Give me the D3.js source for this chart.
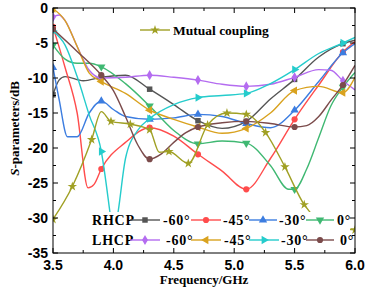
<!DOCTYPE html>
<html>
<head>
<meta charset="utf-8">
<script src="https://cdn.jsdelivr.net/npm/d3@7"></script>
<style>
  body { margin: 0; background: #fff; }
  svg { display: block; }
  .tick-label { font-family: "Liberation Sans", Arial, sans-serif; font-weight: bold; font-size: 14px; fill: #000; }
  .serif { font-family: "Liberation Serif", "Times New Roman", serif; font-weight: bold; font-size: 13px; fill: #000; }
  .entry { font-size: 14px; letter-spacing: 0.8px; }
</style>
</head>
<body>
<div id="chart-container"></div>
<script>
// axis ticks
const freqTicks = [3.5, 4.0, 4.5, 5.0, 5.5, 6.0];
const freqMinorTicks = [3.75, 4.25, 4.75, 5.25, 5.75];
const dbTicks = [0, -5, -10, -15, -20, -25, -30, -35];
const dbMinorTicks = [-2.5, -7.5, -12.5, -17.5, -22.5, -27.5, -32.5];

// frequencies where the symbols sit
const markFreqs = [3.5, 3.9, 4.3, 4.7, 5.1, 5.5, 5.9];
const mutualMarkFreqs = [3.5, 3.66, 3.82, 3.98, 4.14, 4.3, 4.46, 4.62, 4.78, 4.94, 5.1, 5.26, 5.42, 5.58, 5.74, 5.9, 6.0];

// [GHz, dB]
const rhcp60 = [[3.5,-12.4],[3.55,-10.3],[3.6,-9.8],[3.75,-10.4],[3.9,-9.9],[4.1,-9.6],[4.3,-11.6],[4.5,-13.8],[4.7,-16.1],[4.9,-17.2],[5.1,-16.2],[5.3,-13],[5.5,-10.2],[5.7,-7],[5.9,-5.1],[6.0,-4.6]];
const rhcp45 = [[3.5,-2.7],[3.6,-8.5],[3.7,-15],[3.79,-25.7],[3.84,-25.2],[3.9,-23],[4.1,-19.2],[4.3,-17.1],[4.5,-18.3],[4.7,-20.9],[4.9,-23.3],[5.1,-25.9],[5.3,-21.5],[5.5,-15.9],[5.7,-11],[5.9,-6.3],[6.0,-4.8]];
const rhcp30 = [[3.5,-8.5],[3.55,-13],[3.62,-18.4],[3.7,-18.4],[3.8,-15],[3.9,-13.3],[4.0,-14.5],[4.1,-15.5],[4.3,-15.9],[4.5,-15.7],[4.7,-15.2],[4.9,-15.5],[5.1,-16.5],[5.3,-17.1],[5.5,-14.6],[5.7,-10.5],[5.9,-6.4],[6.0,-5.1]];
const rhcp0 = [[3.5,-5.3],[3.6,-7.3],[3.7,-7.9],[3.8,-7.9],[3.9,-8.4],[4.1,-10.8],[4.3,-14],[4.5,-17.5],[4.7,-19.4],[4.9,-19],[5.1,-19.3],[5.3,-22.5],[5.45,-25.9],[5.5,-25.9],[5.6,-23],[5.7,-18.5],[5.8,-14],[5.9,-11.3],[6.0,-9.2]];
const lhcp60 = [[3.5,-1.3],[3.55,-1.0],[3.6,-1.8],[3.7,-5.5],[3.8,-8.9],[3.9,-10],[4.1,-9.9],[4.3,-9.6],[4.5,-9.9],[4.7,-10.3],[4.9,-10.9],[5.1,-11.2],[5.3,-10.9],[5.5,-9.9],[5.7,-8.8],[5.8,-8.9],[5.9,-10.4],[6.0,-11.7]];
const lhcp45 = [[3.5,-0.1],[3.6,-1.8],[3.7,-5.5],[3.8,-9.3],[3.9,-10.5],[4.1,-12.2],[4.3,-14.6],[4.5,-15.9],[4.7,-17],[4.9,-17.9],[5.1,-17.2],[5.3,-15],[5.5,-11.8],[5.7,-11.2],[5.9,-12.1],[6.0,-9.9]];
const lhcp30 = [[3.5,-3.3],[3.6,-5.3],[3.7,-9.8],[3.8,-15.3],[3.9,-20.5],[3.97,-29],[4.0,-33],[4.04,-29],[4.1,-21.5],[4.2,-17.5],[4.3,-15.8],[4.5,-13.8],[4.7,-12.8],[4.9,-12.5],[5.1,-12.2],[5.3,-10.8],[5.5,-8.8],[5.7,-6.5],[5.9,-5],[6.0,-4.2]];
const lhcp0 = [[3.5,-3.0],[3.7,-6.2],[3.9,-9.6],[4.0,-11.8],[4.1,-15.5],[4.2,-19.5],[4.3,-21.6],[4.4,-20.8],[4.5,-19.2],[4.6,-17.8],[4.7,-17],[4.9,-16.4],[5.1,-16.2],[5.3,-16.5],[5.5,-17],[5.6,-16.8],[5.7,-15.5],[5.8,-13.2],[5.9,-11],[6.0,-8.2]];
const mutual = [[3.5,-30.2],[3.66,-25.5],[3.82,-18.8],[3.9,-14.8],[3.98,-16.2],[4.14,-16.6],[4.3,-17.4],[4.38,-20.6],[4.46,-20.5],[4.62,-22.2],[4.78,-16.7],[4.94,-15],[5.1,-15.2],[5.26,-17.8],[5.42,-22.7],[5.58,-28.1],[5.74,-30.8],[5.9,-31.5],[6.0,-31.7]];

const series = [
  {name: '-60°', data: rhcp60, color: '#555555', symbol: d3.symbolSquare, rot: 0, size: 30},
  {name: '-45°', data: rhcp45, color: '#ff4c4c', symbol: d3.symbolCircle, rot: 0, size: 30},
  {name: '-30°', data: rhcp30, color: '#3c7de0', symbol: d3.symbolTriangle, rot: 0, size: 30},
  {name: '0°', data: rhcp0, color: '#3fb872', symbol: d3.symbolTriangle, rot: 180, size: 30},
  {name: '-60°', data: lhcp60, color: '#b46cf0', symbol: d3.symbolDiamond, rot: 0, size: 30},
  {name: '-45°', data: lhcp45, color: '#d9a21f', symbol: d3.symbolTriangle, rot: -90, size: 30},
  {name: '-30°', data: lhcp30, color: '#25cccc', symbol: d3.symbolTriangle, rot: 90, size: 30},
  {name: '0°', data: lhcp0, color: '#7b4b4b', symbol: d3.symbolCircle, rot: 0, size: 30}
];
const mutualSeries = {name: 'Mutual coupling', data: mutual, color: '#a0a024', symbol: d3.symbolStar, rot: 0, size: 28};

const width = 365, height = 293;
const margin = {left: 53, right: 10, top: 8, bottom: 40};

const svg = d3.select('#chart-container').append('svg')
  .attr('width', width)
  .attr('height', height);

const x = d3.scaleLinear().domain([3.5, 6.0]).range([margin.left, width - margin.right]);
const y = d3.scaleLinear().domain([-35, 0]).range([height - margin.bottom, margin.top]);

svg.append('clipPath').attr('id', 'plot-clip')
  .append('rect')
  .attr('x', x(3.5)).attr('y', y(0))
  .attr('width', x(6.0) - x(3.5)).attr('height', y(-35) - y(0));

const line = d3.line()
  .x(d => x(d[0]))
  .y(d => y(d[1]))
  .curve(d3.curveMonotoneX);

const symbolPath = s => d3.symbol().type(s.symbol).size(s.size)();
const isMark = (list, f) => list.some(m => Math.abs(m - f) < 1e-6);

const plot = svg.append('g').attr('clip-path', 'url(#plot-clip)');

const drawSeries = (s, marks) => {
  const g = plot.append('g');
  g.append('path')
    .attr('fill', 'none')
    .attr('stroke', s.color)
    .attr('stroke-width', 1.4)
    .attr('d', line(s.data));
  g.selectAll('path.mark')
    .data(s.data.filter(d => isMark(marks, d[0])))
    .enter().append('path')
    .attr('class', 'mark')
    .attr('d', symbolPath(s))
    .attr('fill', s.color)
    .attr('transform', d => 'translate(' + x(d[0]) + ',' + y(d[1]) + ') rotate(' + s.rot + ')');
};

series.forEach(s => drawSeries(s, markFreqs));
drawSeries(mutualSeries, mutualMarkFreqs);

// bottom legend, white box hides curves below it
const legendBox = {x0: 88, x1: 350, y0: 212, y1: 251};
plot.append('rect')
  .attr('x', legendBox.x0).attr('y', legendBox.y0)
  .attr('width', legendBox.x1 - legendBox.x0).attr('height', legendBox.y1 - legendBox.y0)
  .attr('fill', '#fff');

const legendItem = (s, lx0, lx1, ly, tx) => {
  svg.append('line')
    .attr('x1', lx0).attr('x2', lx1).attr('y1', ly).attr('y2', ly)
    .attr('stroke', s.color).attr('stroke-width', 1.4);
  svg.append('path')
    .attr('d', symbolPath(s))
    .attr('fill', s.color)
    .attr('transform', 'translate(' + ((lx0 + lx1) / 2) + ',' + ly + ') rotate(' + s.rot + ')');
  if(tx != null){
    svg.append('text').attr('class', 'serif entry')
      .attr('x', tx).attr('y', ly + 5)
      .text(s.name);
  }
};

const rowY = [220, 240];
svg.append('text').attr('class', 'serif entry').attr('x', 92).attr('y', rowY[0] + 5).text('RHCP');
svg.append('text').attr('class', 'serif entry').attr('x', 92).attr('y', rowY[1] + 5).text('LHCP');
const rhcpSlots = [[130, 160, 163], [191, 221, 223], [249, 277, 279], [306, 334, 337]];
const lhcpSlots = [[130, 160, 166], [191, 221, 224], [249, 279, 281], [306, 334, 340]];
series.slice(0, 4).forEach((s, i) => legendItem(s, rhcpSlots[i][0], rhcpSlots[i][1], rowY[0], rhcpSlots[i][2]));
series.slice(4).forEach((s, i) => legendItem(s, lhcpSlots[i][0], lhcpSlots[i][1], rowY[1], lhcpSlots[i][2]));

legendItem(mutualSeries, 140, 170, 30, null);
svg.append('text').attr('class', 'serif').style('font-size', '13.5px')
  .attr('x', 173).attr('y', 35).text('Mutual coupling');

// frame and inward ticks
const x0 = x(3.5), x1 = x(6.0), y0 = y(0), y1 = y(-35);
svg.append('rect')
  .attr('x', x0).attr('y', y0).attr('width', x1 - x0).attr('height', y1 - y0)
  .attr('fill', 'none').attr('stroke', '#000').attr('stroke-width', 1);

const tickG = svg.append('g').attr('stroke', '#000').attr('stroke-width', 1);
const xTick = (f, len) => {
  tickG.append('line').attr('x1', x(f)).attr('x2', x(f)).attr('y1', y1).attr('y2', y1 - len);
  tickG.append('line').attr('x1', x(f)).attr('x2', x(f)).attr('y1', y0).attr('y2', y0 + len);
};
const yTick = (v, len) => {
  tickG.append('line').attr('x1', x0).attr('x2', x0 + len).attr('y1', y(v)).attr('y2', y(v));
  tickG.append('line').attr('x1', x1).attr('x2', x1 - len).attr('y1', y(v)).attr('y2', y(v));
};
freqTicks.forEach(f => xTick(f, 5));
freqMinorTicks.forEach(f => xTick(f, 3));
dbTicks.forEach(v => yTick(v, 5));
dbMinorTicks.forEach(v => yTick(v, 3));

svg.selectAll('text.xl')
  .data(freqTicks)
  .enter().append('text')
  .attr('class', 'tick-label xl')
  .attr('x', d => x(d)).attr('y', y1 + 17)
  .attr('text-anchor', 'middle')
  .text(d3.format('.1f'));

svg.selectAll('text.yl')
  .data(dbTicks)
  .enter().append('text')
  .attr('class', 'tick-label yl')
  .attr('x', x0 - 5).attr('y', d => y(d) + 5)
  .attr('text-anchor', 'end')
  .text(d => d);

svg.append('text').attr('class', 'serif')
  .attr('x', (x0 + x1) / 2).attr('y', 284)
  .attr('text-anchor', 'middle')
  .text('Frequency/GHz');

const yLabel = svg.append('text').attr('class', 'serif')
  .attr('transform', 'translate(19,' + ((y0 + y1) / 2 - 2) + ') rotate(-90)')
  .attr('text-anchor', 'middle');
yLabel.append('tspan').attr('font-style', 'italic').text('S');
yLabel.append('tspan').text('-parameters/dB');
</script>
</body>
</html>
